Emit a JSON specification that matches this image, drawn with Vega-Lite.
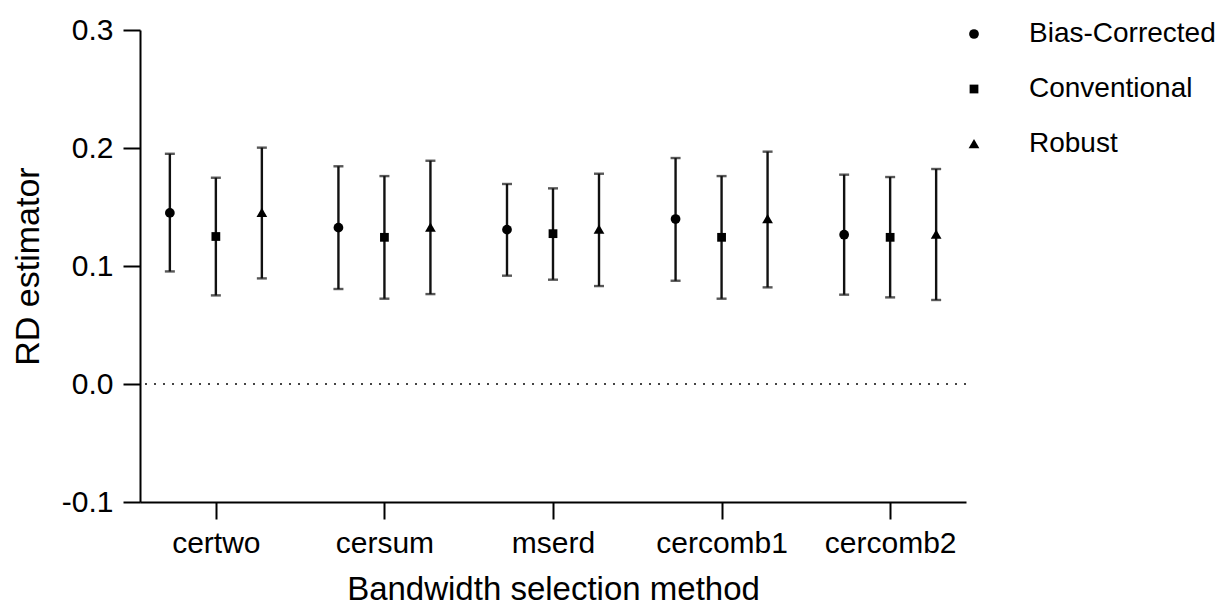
{
  "$schema": "https://vega.github.io/schema/vega-lite/v6.json",
  "width": 826,
  "height": 472,
  "autosize": "none",
  "padding": {"left": 140, "top": 30, "right": 256, "bottom": 108},
  "background": "white",
  "config": {
    "font": "Liberation Sans",
    "view": {"stroke": null}
  },
  "data": {
    "values": [
      {"method": "certwo", "type": "Bias-Corrected", "est": 0.145, "lo": 0.0954, "hi": 0.1951},
      {"method": "certwo", "type": "Conventional", "est": 0.125, "lo": 0.0751, "hi": 0.1748},
      {"method": "certwo", "type": "Robust", "est": 0.145, "lo": 0.0895, "hi": 0.2003},
      {"method": "cersum", "type": "Bias-Corrected", "est": 0.1325, "lo": 0.0805, "hi": 0.1845},
      {"method": "cersum", "type": "Conventional", "est": 0.1243, "lo": 0.0723, "hi": 0.1762},
      {"method": "cersum", "type": "Robust", "est": 0.1325, "lo": 0.0762, "hi": 0.1892},
      {"method": "mserd", "type": "Bias-Corrected", "est": 0.1308, "lo": 0.0918, "hi": 0.1695},
      {"method": "mserd", "type": "Conventional", "est": 0.1274, "lo": 0.0884, "hi": 0.1658},
      {"method": "mserd", "type": "Robust", "est": 0.1308, "lo": 0.083, "hi": 0.1782},
      {"method": "cercomb1", "type": "Bias-Corrected", "est": 0.1398, "lo": 0.0875, "hi": 0.1915},
      {"method": "cercomb1", "type": "Conventional", "est": 0.1243, "lo": 0.0723, "hi": 0.1762},
      {"method": "cercomb1", "type": "Robust", "est": 0.1398, "lo": 0.0819, "hi": 0.1969},
      {"method": "cercomb2", "type": "Bias-Corrected", "est": 0.1265, "lo": 0.0757, "hi": 0.1774},
      {"method": "cercomb2", "type": "Conventional", "est": 0.1243, "lo": 0.0734, "hi": 0.1754},
      {"method": "cercomb2", "type": "Robust", "est": 0.1265, "lo": 0.0712, "hi": 0.1822}
    ]
  },
  "encoding": {
    "x": {
      "field": "method",
      "type": "nominal",
      "sort": ["certwo", "cersum", "mserd", "cercomb1", "cercomb2"],
      "scale": {"type": "point", "padding": 0.45},
      "axis": {
        "title": "Bandwidth selection method",
        "titleFontSize": 33,
        "titleFontWeight": "normal",
        "titleColor": "#000",
        "titlePadding": 15,
        "labelFontSize": 30,
        "labelColor": "#000",
        "labelAngle": 0,
        "labelPadding": 9,
        "tickSize": 17,
        "tickWidth": 2,
        "tickColor": "#000",
        "domainWidth": 2,
        "domainColor": "#000",
        "grid": false
      }
    },
    "xOffset": {
      "field": "type",
      "type": "nominal",
      "sort": ["Bias-Corrected", "Conventional", "Robust"],
      "scale": {"type": "point", "range": [-46, 46], "padding": 0}
    }
  },
  "layer": [
    {
      "mark": {"type": "rule", "strokeDash": [2, 7], "strokeWidth": 1.5, "color": "#444"},
      "encoding": {
        "y": {"datum": 0, "type": "quantitative"},
        "x": null,
        "xOffset": null
      }
    },
    {
      "mark": {"type": "rule", "strokeWidth": 2.4, "color": "#111"},
      "encoding": {
        "y": {
          "field": "lo",
          "type": "quantitative",
          "scale": {"domain": [-0.1, 0.3], "nice": false, "zero": false},
          "axis": {
            "title": "RD estimator",
            "titleFontSize": 34,
            "titleFontWeight": "normal",
            "titleColor": "#000",
            "titlePadding": 16,
            "values": [-0.1, 0, 0.1, 0.2, 0.3],
            "labelExpr": "datum.value < 0 ? '-' + format(abs(datum.value), '.1f') : format(datum.value, '.1f')",
            "labelFontSize": 30,
            "labelColor": "#000",
            "labelPadding": 10,
            "tickSize": 17,
            "tickWidth": 2,
            "tickColor": "#000",
            "domainWidth": 2,
            "domainColor": "#000",
            "grid": false
          }
        },
        "y2": {"field": "hi"}
      }
    },
    {
      "mark": {"type": "tick", "size": 10, "thickness": 2.4, "color": "#111", "orient": "horizontal"},
      "encoding": {"y": {"field": "lo", "type": "quantitative"}}
    },
    {
      "mark": {"type": "tick", "size": 10, "thickness": 2.4, "color": "#111", "orient": "horizontal"},
      "encoding": {"y": {"field": "hi", "type": "quantitative"}}
    },
    {
      "mark": {"type": "point", "filled": true, "opacity": 1, "size": 95},
      "encoding": {
        "y": {"field": "est", "type": "quantitative"},
        "shape": {
          "field": "type",
          "type": "nominal",
          "sort": ["Bias-Corrected", "Conventional", "Robust"],
          "scale": {"range": ["circle", "M-0.9,-0.9L0.9,-0.9L0.9,0.9L-0.9,0.9Z", "M0,-1.05L1.1,0.85L-1.1,0.85Z"]},
          "legend": {
            "title": null,
            "orient": "none",
            "legendX": 820,
            "legendY": -10,
            "labelFontSize": 28,
            "labelColor": "#000",
            "labelOffset": 41,
            "labelLimit": 400,
            "rowPadding": 27,
            "symbolSize": 95,
            "symbolFillColor": "#000",
            "symbolStrokeColor": "#000",
            "symbolStrokeWidth": 0
          }
        },
        "color": {"value": "#000"}
      }
    }
  ]
}
